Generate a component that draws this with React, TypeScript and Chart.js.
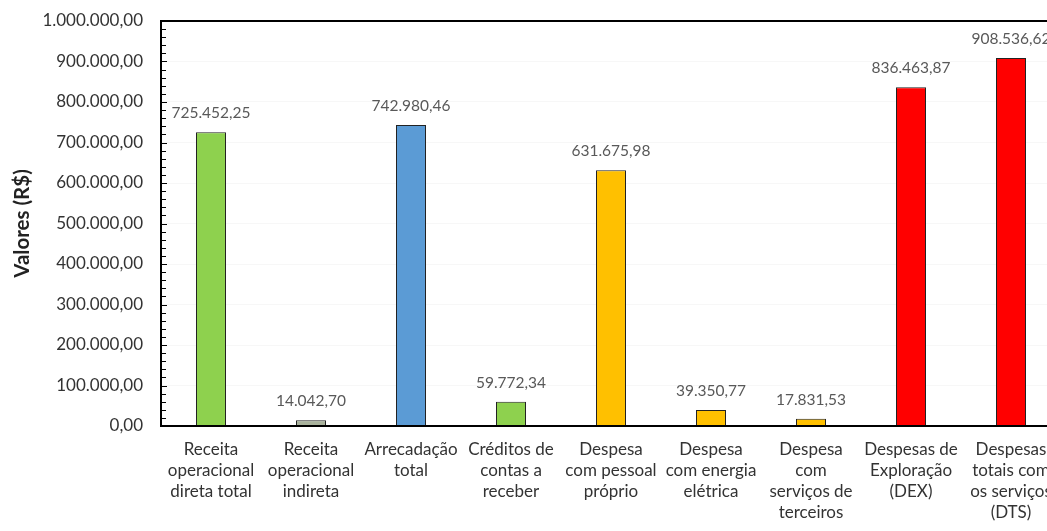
import React, { useEffect, useRef } from "react";
import { Chart, registerables } from "chart.js";

Chart.register(...registerables);

const categories: string[][] = [
  ["Receita", "operacional", "direta total"],
  ["Receita", "operacional", "indireta"],
  ["Arrecadação", "total"],
  ["Créditos de", "contas a", "receber"],
  ["Despesa", "com pessoal", "próprio"],
  ["Despesa", "com energia", "elétrica"],
  ["Despesa", "com", "serviços de", "terceiros"],
  ["Despesas de", "Exploração", "(DEX)"],
  ["Despesas", "totais com", "os serviços", "(DTS)"],
];

const values: number[] = [
  725452.25, 14042.7, 742980.46, 59772.34, 631675.98, 39350.77, 17831.53, 836463.87, 908536.62,
];

const barColors: string[] = [
  "#8ED14E", "#A9B29C", "#5B9BD5", "#8ED14E", "#FFC000", "#FFC000", "#FFC000", "#FF0000", "#FF0000",
];

const yMin = 0;
const yMax = 1000000;
const yStep = 100000;
const yMinorStep = 20000;

function fmt(v: number): string {
  const s = v.toFixed(2);
  const [i, d] = s.split(".");
  return i.replace(/\B(?=(\d{3})+(?!\d))/g, ".") + "," + d;
}

const FONT = "Lato, 'Open Sans', sans-serif";

const overlay = {
  id: "overlay",
  afterDraw(chart: any) {
    const ctx: CanvasRenderingContext2D = chart.ctx;
    const area = chart.chartArea;
    const y = chart.scales.y;
    const L = Math.round(area.left);
    const R = Math.round(area.right);
    const T = Math.round(area.top);
    const B = Math.round(area.bottom);
    ctx.save();
    ctx.fillStyle = "#000000";
    ctx.fillRect(L - 1, T - 1, R - L + 1, 2); // top border
    ctx.fillRect(L - 1, T - 1, 2, B - T + 2); // left axis
    ctx.fillRect(L - 1, B - 1, R - L + 1, 2); // bottom axis
    for (let v = yMin; v <= yMax; v += yMinorStep) {
      const py = Math.round(y.getPixelForValue(v));
      const major = v % yStep === 0;
      ctx.fillRect(L, py, major ? 6 : 5, 1);
    }
    const meta = chart.getDatasetMeta(0);
    ctx.fillStyle = "#595959";
    ctx.font = "15.5px " + FONT;
    ctx.textAlign = "center";
    ctx.textBaseline = "alphabetic";
    meta.data.forEach((bar: any, idx: number) => {
      ctx.fillText(fmt(values[idx]), bar.x, bar.y - 14);
    });
    ctx.restore();
  },
};

export default function App() {
  const ref = useRef<HTMLCanvasElement>(null);
  useEffect(() => {
    if (!ref.current) return;
    const chart = new Chart(ref.current, {
      type: "bar",
      data: {
        labels: categories,
        datasets: [
          {
            data: values,
            backgroundColor: barColors,
            borderColor: "#222222",
            borderWidth: 1,
            barPercentage: 0.6,
            categoryPercentage: 0.5,
          },
        ],
      },
      options: {
        animation: false,
        responsive: false,
        maintainAspectRatio: false,
        layout: { padding: { left: 0, right: 19, top: 21, bottom: 0 } },
        plugins: {
          legend: { display: false },
          tooltip: { enabled: false },
        },
        scales: {
          x: {
            grid: { display: false, drawTicks: false },
            border: { display: false },
            ticks: {
              color: "#333",
              font: { family: FONT, size: 17, lineHeight: 1.22 },
              padding: 13.5,
              maxRotation: 0,
              autoSkip: false,
            },
            afterFit: (s: any) => {
              s.height = 105;
              s.paddingLeft = 0;
              s.paddingRight = 0;
            },
          },
          y: {
            min: yMin,
            max: yMax,
            grid: { color: "rgba(0,0,0,0.03)", drawTicks: false },
            border: { display: false },
            ticks: {
              stepSize: yStep,
              color: "#333",
              font: { family: FONT, size: 17 },
              padding: 18,
              callback: (v: any) => fmt(Number(v)),
            },
            title: {
              display: true,
              text: "Valores (R$)",
              color: "#222",
              font: { family: FONT, size: 20.5, weight: "bold" },
              padding: { top: 10, bottom: 0 },
            },
            afterFit: (s: any) => {
              s.width = 161;
              s.paddingTop = 0;
              s.paddingBottom = 0;
            },
          },
        },
      },
      plugins: [overlay],
    });
    return () => chart.destroy();
  }, []);
  return (
    <div
      style={{
        position: "fixed",
        left: 0,
        top: 0,
        width: 1047,
        height: 531,
        overflow: "hidden",
        background: "#fff",
      }}
    >
      <canvas ref={ref} width={1080} height={531} />
    </div>
  );
}
